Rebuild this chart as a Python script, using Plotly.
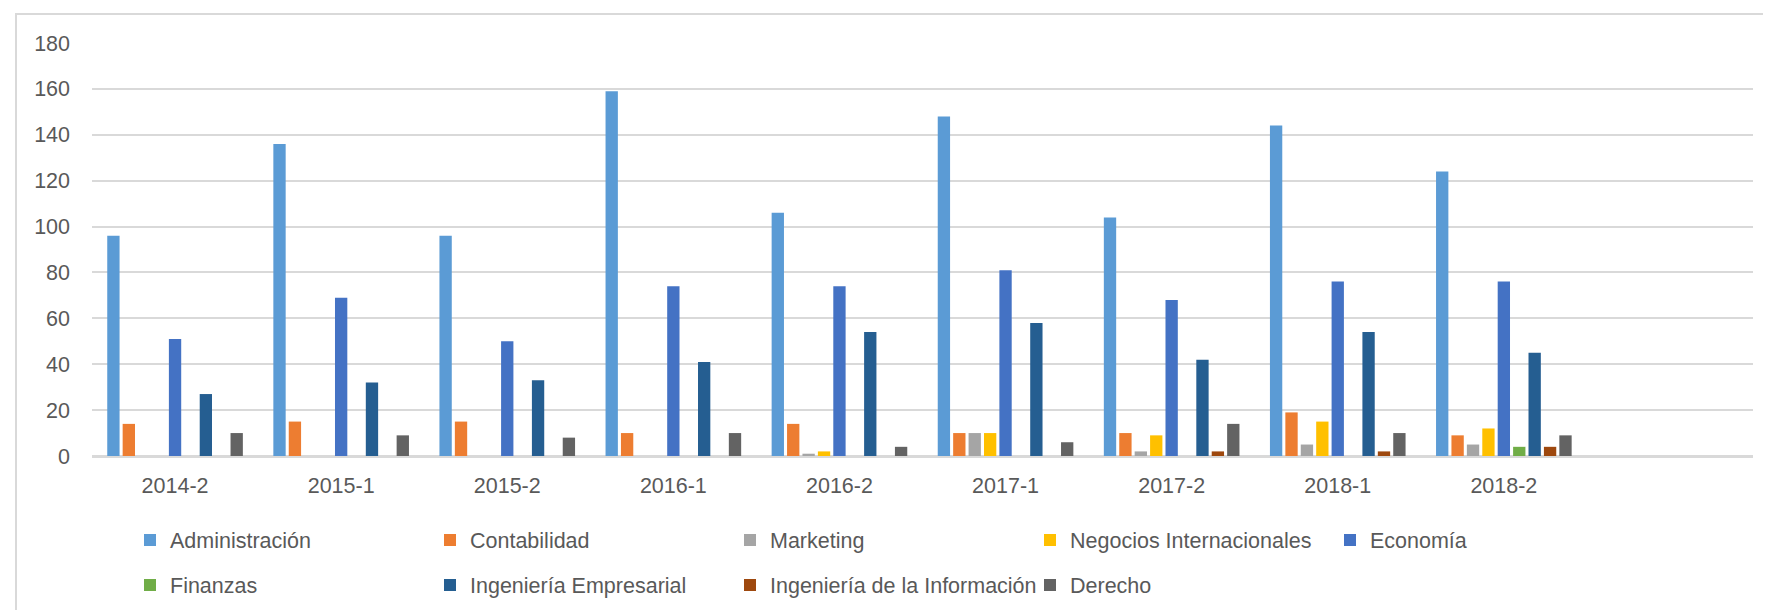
import plotly.graph_objects as go

categories = ["2014-2", "2015-1", "2015-2", "2016-1", "2016-2", "2017-1", "2017-2", "2018-1", "2018-2"]

administracion = [96, 136, 96, 159, 106, 148, 104, 144, 124]
contabilidad = [14, 15, 15, 10, 14, 10, 10, 19, 9]
marketing = [0, 0, 0, 0, 1, 10, 2, 5, 5]
negocios_int = [0, 0, 0, 0, 2, 10, 9, 15, 12]
economia = [51, 69, 50, 74, 74, 81, 68, 76, 76]
finanzas = [0, 0, 0, 0, 0, 0, 0, 0, 4]
ing_empresarial = [27, 32, 33, 41, 54, 58, 42, 54, 45]
ing_informacion = [0, 0, 0, 0, 0, 0, 2, 2, 4]
derecho = [10, 9, 8, 10, 4, 6, 14, 10, 9]

series = [
    ("Administración", administracion, "#5B9BD5", "legend"),
    ("Contabilidad", contabilidad, "#ED7D31", "legend"),
    ("Marketing", marketing, "#A5A5A5", "legend"),
    ("Negocios Internacionales", negocios_int, "#FFC000", "legend"),
    ("Economía", economia, "#4472C4", "legend"),
    ("Finanzas", finanzas, "#70AD47", "legend2"),
    ("Ingeniería Empresarial", ing_empresarial, "#255E91", "legend2"),
    ("Ingeniería de la Información", ing_informacion, "#9E480E", "legend2"),
    ("Derecho", derecho, "#636363", "legend2"),
]

W, H = 1771, 610
L, R, T, B = 84, 26, 35, 162
pw, ph = W - L - R, H - T - B

fig = go.Figure()
for name, vals, color, lg in series:
    fig.add_trace(go.Bar(x=categories, y=vals, name=name, marker_color=color,
                         marker_line_width=0, legend=lg))

font = dict(family="Liberation Sans", size=21.5, color="#595959")

def px_x(x):
    return (x - L) / pw

def px_y(y):
    return (H - B - y) / ph

legend_common = dict(orientation="h", xanchor="left", yanchor="middle",
                     entrywidth=255, entrywidthmode="pixels", font=font,
                     bgcolor="rgba(0,0,0,0)", traceorder="normal")

fig.update_layout(
    width=W, height=H,
    margin=dict(l=L, r=R, t=T, b=B, autoexpand=False),
    paper_bgcolor="white", plot_bgcolor="white",
    font=font,
    barmode="group", bargap=0.165, bargroupgap=0.2,
    showlegend=True,
    legend=dict(x=px_x(122), y=px_y(532), **legend_common),
    legend2=dict(x=px_x(122), y=px_y(577), **legend_common),
    xaxis=dict(type="category", range=[-0.5, 9.5], showgrid=False,
               showline=True, linecolor="#d9d9d9", linewidth=2,
               ticks="", tickfont=font, ticklabelstandoff=9),
    yaxis=dict(range=[0, 180], dtick=20, showgrid=True, gridcolor="#d9d9d9",
               gridwidth=2, zeroline=True, zerolinecolor="#d9d9d9", zerolinewidth=2,
               showline=False, ticks="", tickfont=font, ticklabelstandoff=21),
    shapes=[dict(type="rect", xref="paper", yref="paper",
                 x0=px_x(8), x1=px_x(1780), y0=px_y(620), y1=px_y(6),
                 line=dict(color="#d9d9d9", width=2), layer="below")],
)

fig.write_html("out.html")
